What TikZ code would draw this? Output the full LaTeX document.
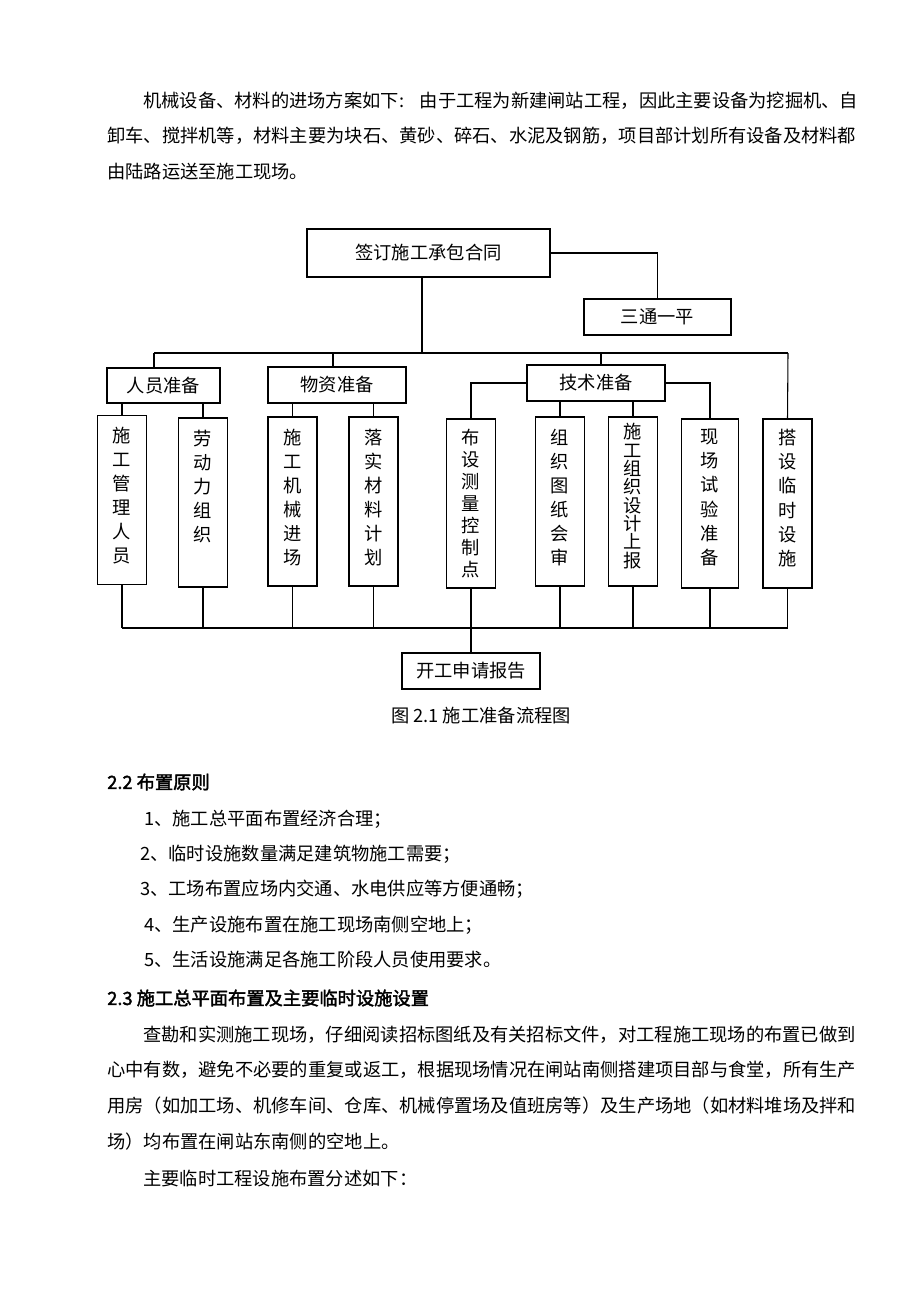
\documentclass[tikz,border=0pt]{standalone}
\usepackage{fontspec}
\setmainfont{Noto Sans CJK SC}
\newfontfamily\boldcjk[FakeBold=2]{Noto Sans CJK SC}
\XeTeXlinebreaklocale "zh"
\XeTeXlinebreakskip=0pt plus 1pt
\newcommand\bodyfont{\fontsize{13.7pt}{18pt}\selectfont}
\newcommand\headfont{\boldcjk\fontsize{13.7pt}{18pt}\selectfont}
% text set downwards in the tall boxes: top gap, pitch, characters
\newcommand\colt[3]{\parbox[c][126pt][t]{16pt}{\centering\lineskiplimit=-20pt\baselineskip=#2\vspace*{#1}#3\par}}
\newcommand\fullline[2]{\makebox[#1][s]{#2}}
\tikzset{
  box/.style={draw, line width=0.8pt, inner sep=0pt, font=\bodyfont},
  kbox/.style={box, minimum width=36.75pt, minimum height=126.75pt},
  txt/.style={anchor=west, inner sep=0pt, font=\bodyfont},
  head/.style={anchor=west, inner sep=0pt, font=\headfont},
  link/.style={line width=0.8pt}
}
\begin{document}
\begin{tikzpicture}[x=0.75pt, y=-0.75pt]
  \useasboundingbox (0,0) rectangle (920,1302);
  \fill[white] (0,0) rectangle (920,1302);

  % text above the chart
  \node[txt] (p1a) at (143,101) {\fullline{536.25pt}{机械设备、材料的进场方案如下: 由于工程为新建闸站工程，因此主要设备为挖掘机、自}};
  \node[txt] (p1b) at (107,136) {\fullline{563.25pt}{卸车、搅拌机等，材料主要为块石、黄砂、碎石、水泥及钢筋，项目部计划所有设备及材料都}};
  \node[txt] (p1c) at (107,172) {由陆路运送至施工现场。};

  % chart boxes
  \node[box, minimum width=182.25pt, minimum height=36pt] (top) at (428.5,253) {签订施工承包合同};
  \node[box, minimum width=110.25pt, minimum height=27pt] (stp) at (657.5,317) {三通一平};
  \node[box, minimum width=84.75pt, minimum height=26.25pt] (ry) at (163.5,385.5) {人员准备};
  \node[box, minimum width=103.5pt, minimum height=27pt] (wz) at (337,385) {物资准备};
  \node[box, minimum width=103.5pt, minimum height=27pt] (js) at (596,383) {技术准备};

  \node[kbox] (k1) at (122,500) {\colt{8.5pt}{18pt}{施\\工\\管\\理\\人\\员}};
  \node[kbox] (k2) at (203,502.5) {\colt{8.5pt}{18pt}{劳\\动\\力\\组\\织}};
  \node[kbox] (k3) at (292.5,501.5) {\colt{8.5pt}{18pt}{施\\工\\机\\械\\进\\场}};
  \node[kbox] (k4) at (373.5,501.5) {\colt{8.5pt}{18pt}{落\\实\\材\\料\\计\\划}};
  \node[kbox] (k5) at (471,503.5) {\colt{7pt}{16.5pt}{布\\设\\测\\量\\控\\制\\点}};
  \node[kbox] (k6) at (560,501.5) {\colt{8.5pt}{18pt}{组\\织\\图\\纸\\会\\审}};
  \node[kbox] (k7) at (633,501.5) {\colt{4.5pt}{13.75pt}{施\\工\\组\\织\\设\\计\\上\\报}};
  \node[kbox, minimum width=42.4pt] (k8) at (710,503.5) {\colt{7pt}{18.25pt}{现\\场\\试\\验\\准\\备}};
  \node[kbox] (k9) at (787.5,503.5) {\colt{7pt}{18.25pt}{搭\\设\\临\\时\\设\\施}};

  \node[box, minimum width=103.5pt, minimum height=27pt] (kg) at (471,671) {开工申请报告};
  \node[inner sep=0pt, font=\bodyfont] (cap) at (481,716) {图 2.1 施工准备流程图};

  % connectors
  \coordinate (b0) at (422,353);
  \coordinate (bl) at (154,353);
  \coordinate (bw) at (333,353);
  \coordinate (bj) at (601,353);
  \coordinate (br) at (788,353);
  \coordinate (dl) at (122,628);
  \coordinate (dr) at (788,628);

  \draw[link] (top.east) -| (stp.north);
  \draw[link] (b0 |- top.south) -- (b0);
  \draw[link] (bl) -- (br);
  \draw[link] (bl) -- (bl |- ry.north);
  \draw[link] (bw) -- (bw |- wz.north);
  \draw[link] (bj) -- (bj |- js.north);
  \draw[link] (br) -- (k9.north);

  \draw[link] (k1.north |- ry.south) -- (k1.north);
  \draw[link] (k2.north |- ry.south) -- (k2.north);
  \draw[link] (k3.north |- wz.south) -- (k3.north);
  \draw[link] (k4.north |- wz.south) -- (k4.north);
  \draw[link] (js.west) -| (k5.north);
  \draw[link] (k6.north |- js.south) -- (k6.north);
  \draw[link] (k7.north |- js.south) -- (k7.north);
  \draw[link] (js.east) -| (k8.north);

  \foreach \i in {1,...,9}
    \draw[link] (k\i.south) -- (k\i.south |- dl);
  \draw[link] (dl) -- (dr);
  \draw[link] (kg.north |- dl) -- (kg.north);

  % text below the chart
  \node[head] (h22) at (107,782) {2.2 布置原则};
  \node[txt] (i1) at (144,819) {1、施工总平面布置经济合理；};
  \node[txt] (i2) at (140,854) {2、临时设施数量满足建筑物施工需要；};
  \node[txt] (i3) at (140,889) {3、工场布置应场内交通、水电供应等方便通畅；};
  \node[txt] (i4) at (144,925) {4、生产设施布置在施工现场南侧空地上；};
  \node[txt] (i5) at (144,960) {5、生活设施满足各施工阶段人员使用要求。};
  \node[head] (h23) at (107,998) {2.3 施工总平面布置及主要临时设施设置};
  \node[txt] (p2a) at (143,1035) {\fullline{536.25pt}{查勘和实测施工现场，仔细阅读招标图纸及有关招标文件，对工程施工现场的布置已做到}};
  \node[txt] (p2b) at (107,1070) {\fullline{563.25pt}{心中有数，避免不必要的重复或返工，根据现场情况在闸站南侧搭建项目部与食堂，所有生产}};
  \node[txt] (p2c) at (107,1106) {\fullline{563.25pt}{用房（如加工场、机修车间、仓库、机械停置场及值班房等）及生产场地（如材料堆场及拌和}};
  \node[txt] (p2d) at (107,1142) {场）均布置在闸站东南侧的空地上。};
  \node[txt] (p3) at (143,1179) {主要临时工程设施布置分述如下：};
\end{tikzpicture}
\end{document}
